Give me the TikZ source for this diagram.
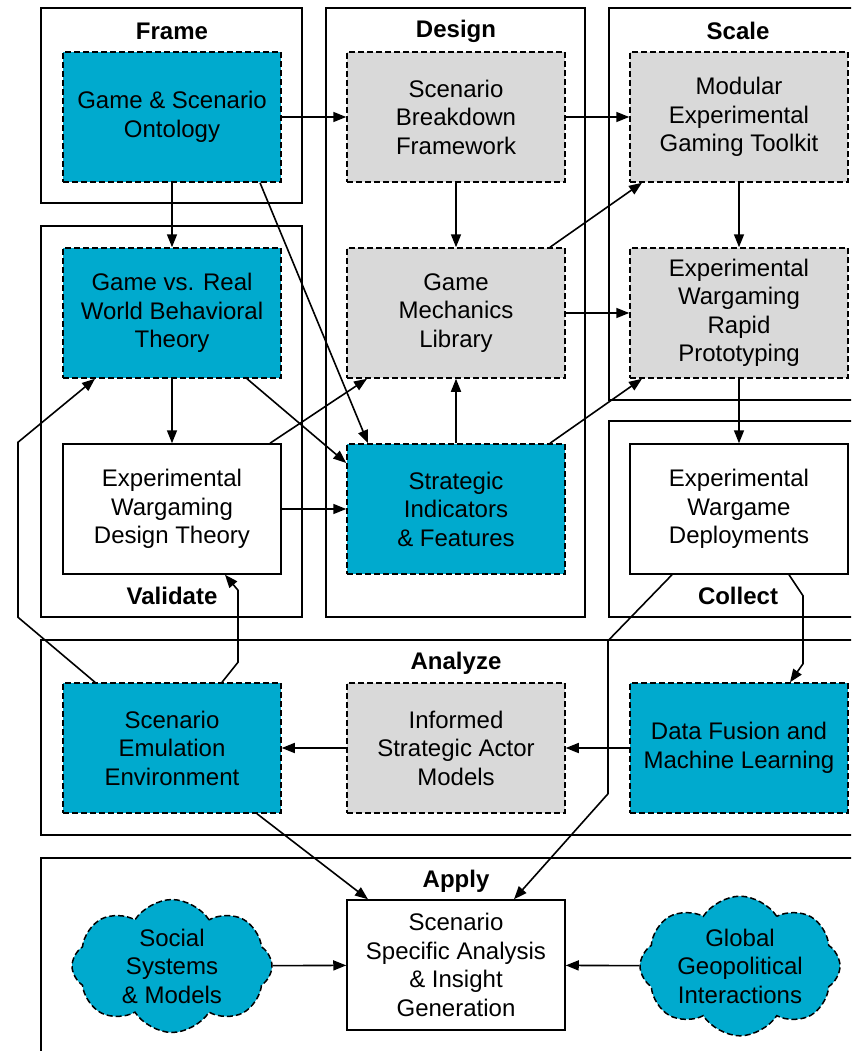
\documentclass[tikz,border=0pt]{standalone}
\usepackage{fontspec}
\setmainfont{Liberation Sans}
\usetikzlibrary{arrows.meta,shapes.symbols}
\definecolor{gamecyan}{RGB}{0,170,206}
\definecolor{toolgray}{RGB}{217,217,217}
\begin{document}
\begin{tikzpicture}[x=1pt,y=-1pt,
  font=\fontsize{24}{28.5}\selectfont,
  panel/.style={draw,line width=2pt},
  head/.style={font=\fontsize{24}{28.5}\selectfont\bfseries},
  box/.style={draw,line width=1.5pt,align=center,minimum width=218pt,minimum height=130pt,inner sep=0pt},
  cyanbox/.style={box,fill=gamecyan,dash pattern=on 6pt off 3pt},
  graybox/.style={box,fill=toolgray,dash pattern=on 6pt off 3pt},
  puff/.style={cloud,cloud puffs=8,cloud puff arc=115,aspect=1.6,draw,line width=1.5pt,fill=gamecyan,dash pattern=on 6pt off 3pt,align=center,minimum width=200pt,minimum height=125pt,inner sep=0pt},
  arr/.style={-{Triangle[length=13pt,width=10pt]},line width=1.6pt}]
\useasboundingbox (0,0) rectangle (851,1051);
\clip (0,0) rectangle (851,1051);
%panels
\node[panel,minimum width=261pt,minimum height=195pt] (framep) at (171.5,105.5) {};
\node[panel,minimum width=259pt,minimum height=609pt] (designp) at (455.5,312.5) {};
\node[panel,minimum width=259pt,minimum height=392pt] (scalep) at (738.5,204) {};
\node[panel,minimum width=261pt,minimum height=391pt] (validatep) at (171.5,421.5) {};
\node[panel,minimum width=259pt,minimum height=196pt] (collectp) at (738.5,519) {};
\node[panel,minimum width=829pt,minimum height=195pt] (analyzep) at (455.5,737.5) {};
\node[panel,minimum width=829pt,minimum height=212pt] (applyp) at (455.5,964) {};
\node[head] (framet) at (172,31) {Frame};
\node[head] (designt) at (456,31) {Design};
\node[head] (scalet) at (738,31) {Scale};
\node[head] (validatet) at (172,596) {Validate};
\node[head] (collectt) at (738,596) {Collect};
\node[head] (analyzet) at (456,663) {Analyze};
\node[head] (applyt) at (456,881) {Apply};

%row 1
\node[cyanbox] (gso) at (172,117) {Game \& Scenario\\Ontology};
\node[graybox] (sbf) at (456,117) {Scenario\\Breakdown\\Framework};
\node[graybox] (megt) at (739,117) {Modular\\Experimental\\Gaming Toolkit};
%row 2
\node[cyanbox] (gvr) at (172,313) {Game vs. Real\\World Behavioral\\Theory};
\node[graybox] (gml) at (456,313) {Game\\Mechanics\\Library};
\node[graybox] (ewrp) at (739,313) {Experimental\\Wargaming\\Rapid\\Prototyping};
%row 3
\node[box] (ewdt) at (172,509) {Experimental\\Wargaming\\Design Theory};
\node[cyanbox] (sif) at (456,509) {Strategic\\Indicators\\\& Features};
\node[box] (ewd) at (739,509) {Experimental\\Wargame\\Deployments};
%analyze
\node[cyanbox] (see) at (172,748) {Scenario\\Emulation\\Environment};
\node[graybox] (isam) at (456,748) {Informed\\Strategic Actor\\Models};
\node[cyanbox] (dfml) at (739,748) {Data Fusion and\\Machine Learning};
%apply
\node[box] (ssa) at (456,965) {Scenario\\Specific Analysis\\\& Insight\\Generation};
\node[puff] (social) at (172,966) {Social\\Systems\\\& Models};
\node[puff] (global) at (740,966) {Global\\Geopolitical\\Interactions};

%frame and design
\draw[arr] (gso) -- (sbf);
\draw[arr] (sbf) -- (megt);
\draw[arr] (gso) -- (gvr);
\draw[arr] ([xshift=88pt]gso.south) -- ([xshift=-88pt]sif.north);
\draw[arr] (sbf) -- (gml);
\draw[arr] ([xshift=94pt]gml.north) -- ([xshift=-97pt]megt.south);
\draw[arr] (megt) -- (ewrp);
\draw[arr] (gml) -- (ewrp);
%validate
\draw[arr] (gvr) -- (ewdt);
\draw[arr] ([xshift=75pt]gvr.south) -- ([yshift=46pt]sif.west);
\draw[arr] ([xshift=98pt]ewdt.north) -- ([xshift=-89pt]gml.south);
\draw[arr] (ewdt) -- (sif);
\draw[arr] (sif) -- (gml);
\draw[arr] ([xshift=94pt]sif.north) -- ([xshift=-97pt]ewrp.south);
%scale and collect
\draw[arr] (ewrp) -- (ewd);
\draw[arr] ([xshift=50pt]ewd.south) -- ++(14,21) -- ++(0,68) -- ([xshift=51pt]dfml.north);
\draw[arr] ([xshift=-67pt]ewd.south) -- ++(-64,66) -- ++(0,153) -- ([xshift=58pt]ssa.north);
%analyze
\draw[arr] (dfml) -- (isam);
\draw[arr] (isam) -- (see);
\draw[arr] ([xshift=50pt]see.north) -- ++(16,-20) -- ++(0,-72) -- ([xshift=53pt]ewdt.south);
\draw[arr] ([xshift=-77pt]see.north) -- ++(-77,-65) -- ++(0,-175) -- ([xshift=-77pt]gvr.south);
\draw[arr] ([xshift=85pt]see.south) -- ([xshift=-88pt]ssa.north);
%apply
\draw[arr] (social) -- (ssa);
\draw[arr] (global) -- (ssa);
\end{tikzpicture}
\end{document}
